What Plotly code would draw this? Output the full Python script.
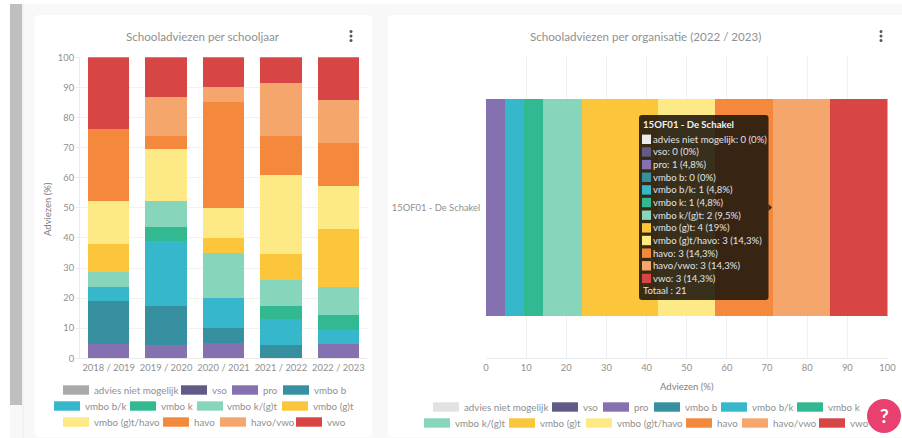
import plotly.graph_objects as go

W, H = 902, 438
FONT = "Lato"
GREY = "#8f8f8f"

school_years = ["2018 / 2019", "2019 / 2020", "2020 / 2021", "2021 / 2022", "2022 / 2023"]
organisation = ["15OF01 - De Schakel"]
advice_levels = ["advies niet mogelijk", "vso", "pro", "vmbo b", "vmbo b/k", "vmbo k",
                 "vmbo k/(g)t", "vmbo (g)t", "vmbo (g)t/havo", "havo", "havo/vwo", "vwo"]
level_colors = ["#a9a9a9", "#625a87", "#8571b0", "#37909f", "#36b7cb", "#33b991",
                "#87d6bc", "#fcc63c", "#fdea87", "#f4883c", "#f5a66c", "#d74545"]
light_first_color = "#e2e2e2"

per_year = {
    "advies niet mogelijk": [0, 0, 0, 0, 0],
    "vso": [0, 0, 0, 0, 0],
    "pro": [4.76, 4.35, 5, 0, 4.76],
    "vmbo b": [14.29, 13.04, 5, 4.35, 0],
    "vmbo b/k": [4.76, 21.74, 10, 8.7, 4.76],
    "vmbo k": [0, 4.35, 0, 4.35, 4.76],
    "vmbo k/(g)t": [4.76, 8.7, 15, 8.7, 9.52],
    "vmbo (g)t": [9.52, 0, 5, 8.7, 19.05],
    "vmbo (g)t/havo": [14.29, 17.39, 10, 26.09, 14.29],
    "havo": [23.81, 4.35, 35, 13.04, 14.29],
    "havo/vwo": [0, 13.04, 5, 17.39, 14.29],
    "vwo": [23.81, 13.04, 10, 8.7, 14.29],
}
org_counts = [0, 0, 1, 0, 1, 1, 2, 4, 3, 3, 3, 3]
org_percent = [0, 0, 4.76, 0, 4.76, 4.76, 9.52, 19.05, 14.29, 14.29, 14.29, 14.29]
org_percent_labels = ["0", "0", "4,8", "0", "4,8", "4,8", "9,5", "19", "14,3", "14,3", "14,3", "14,3"]
org_total = 21


def px(x):
    return x / W


def py(y):
    return 1 - y / H


fig = go.Figure()
for name, color in zip(advice_levels, level_colors):
    fig.add_bar(x=school_years, y=per_year[name], name=name, marker_color=color,
                marker_line_width=0, showlegend=False, xaxis="x", yaxis="y")
for name, color, value in zip(advice_levels, level_colors, org_percent):
    fig.add_bar(y=organisation, x=[value], name=name, orientation="h", marker_color=color,
                marker_line_width=0, showlegend=False, xaxis="x2", yaxis="y2")

shapes = []
annotations = []


def rect(x0, y0, x1, y1, fill, layer="above"):
    shapes.append(dict(type="rect", xref="paper", yref="paper", x0=px(x0), x1=px(x1),
                       y0=py(y0), y1=py(y1), fillcolor=fill, line_width=0, layer=layer))


def rounded(x0, y0, x1, y1, r, fill, layer="above"):
    p = (f"M {px(x0+r)} {py(y0)} L {px(x1-r)} {py(y0)} Q {px(x1)} {py(y0)} {px(x1)} {py(y0+r)} "
         f"L {px(x1)} {py(y1-r)} Q {px(x1)} {py(y1)} {px(x1-r)} {py(y1)} "
         f"L {px(x0+r)} {py(y1)} Q {px(x0)} {py(y1)} {px(x0)} {py(y1-r)} "
         f"L {px(x0)} {py(y0+r)} Q {px(x0)} {py(y0)} {px(x0+r)} {py(y0)} Z")
    shapes.append(dict(type="path", xref="paper", yref="paper", path=p, fillcolor=fill,
                       line_width=0, layer=layer))


def circle(cx, cy, r, fill):
    shapes.append(dict(type="circle", xref="paper", yref="paper", x0=px(cx - r), x1=px(cx + r),
                       y0=py(cy + r), y1=py(cy - r), fillcolor=fill, line_width=0, layer="above"))


def text(x, y, s, size=9.8, color=GREY, anchor="left", angle=0, bold=False):
    annotations.append(dict(xref="paper", yref="paper", x=px(x), y=py(y), text=f"<b>{s}</b>" if bold else s,
                            showarrow=False, xanchor=anchor, yanchor="middle", textangle=angle,
                            font=dict(family=FONT, size=size, color=color),
                            borderpad=0, borderwidth=0))


# page furniture
rect(0, 4, W, H, "#f8f8f8", "below")
rect(0, 0, 10, H, "#ffffff", "below")
rect(10, 4, 22, 405, "#bfbfbf", "below")
rect(22, 4, 24, H, "#f2f2f2", "below")
rounded(35, 15, 372, 437, 4, "#ffffff", "below")
rounded(388, 15, 910, 437, 4, "#ffffff", "below")

text(203, 36, "Schooladviezen per schooljaar", 11.6, "#909090", "center")
text(645, 36, "Schooladviezen per organisatie (2022 / 2023)", 11.6, "#909090", "center")
text(47, 209, "Adviezen (%)", 9.5, "#808080", "center", -90)
text(687, 386, "Adviezen (%)", 9.5, "#808080", "center")

for cx in (351, 881):
    for cy in (31.5, 36, 40.5):
        circle(cx, cy, 1.5, "#555555")

left_legend = [(63, 390), (181, 390), (232, 390), (283, 390),
               (54, 406), (130, 406), (197, 406), (282, 406),
               (63, 422), (163, 422), (220, 422), (296, 422)]
right_legend = [(433, 407), (552, 407), (603, 407), (654, 407), (721, 407), (797, 407),
                (424, 423), (509, 423), (586, 423), (686, 423), (742, 423), (819, 423)]
for name, color, (x, y) in zip(advice_levels, level_colors, left_legend):
    rect(x, y - 4.7, x + 26, y + 4.7, color)
    text(x + 30.5, y, name)
for i, (name, color, (x, y)) in enumerate(zip(advice_levels, level_colors, right_legend)):
    rect(x, y - 4.7, x + 26, y + 4.7, light_first_color if i == 0 else color)
    text(x + 30.5, y, name)

# tooltip
rounded(639, 115, 768.5, 300, 3, "rgba(28,22,14,0.88)")
shapes.append(dict(type="path", xref="paper", yref="paper",
                   path=f"M {px(768.5)} {py(204)} L {px(772)} {py(207.5)} L {px(768.5)} {py(211)} Z",
                   fillcolor="rgba(28,22,14,0.88)", line_width=0, layer="above"))
text(643, 125, organisation[0], 9.6, "#f0f0f0", bold=True)
tip_colors = ["#ececec"] + level_colors[1:]
for i, (name, color, n, p) in enumerate(zip(advice_levels, tip_colors, org_counts, org_percent_labels)):
    y = 139.3 + 12.65 * i
    rect(642, y - 4.7, 651, y + 4.7, color)
    text(653, y, f"{name}: {n} ({p}%)", 9.6, "#e2e2e2")
text(643, 290.7, f"Totaal : {org_total}", 9.6, "#e2e2e2")

# help button
circle(884, 416, 17, "#e8416f")
text(884, 415, "?", 19, "#ffffff", "center", bold=True)

axis_font = dict(family=FONT, size=9.4, color="#909090")
fig.update_layout(
    width=W, height=H, barmode="stack", bargap=0.28, autosize=False,
    margin=dict(l=0, r=0, t=0, b=0, autoexpand=False), paper_bgcolor="#ffffff", plot_bgcolor="rgba(0,0,0,0)",
    shapes=shapes, annotations=annotations, hovermode=False,
    font=dict(family=FONT),
    xaxis=dict(domain=[px(80), px(367)], anchor="y", type="category", tickfont=axis_font, showgrid=False,
               showline=True, linecolor="#eaeaea", ticks="", tickangle=0, automargin=False),
    yaxis=dict(domain=[py(358.3), py(57.3)], anchor="x", range=[0, 100], dtick=10, tickfont=axis_font,
               gridcolor="#f2f2f2", showline=True, linecolor="#eaeaea", ticks="outside", ticklen=3,
               tickcolor="#eaeaea", zeroline=False, automargin=False),
    xaxis2=dict(domain=[px(486), px(887.5)], anchor="y2", range=[0, 100], dtick=10, tickfont=axis_font,
                gridcolor="#f0f0f0", showline=True, linecolor="#eaeaea", zeroline=False, ticks="",
                tickangle=0, automargin=False),
    yaxis2=dict(domain=[py(358.3), py(57.3)], anchor="x2", type="category", tickfont=axis_font,
                showgrid=False, showline=False, ticks="", ticksuffix="  ", automargin=False),
)
fig.write_html("out.html", config=dict(displayModeBar=False),
               post_script="document.body.style.margin='0';")
